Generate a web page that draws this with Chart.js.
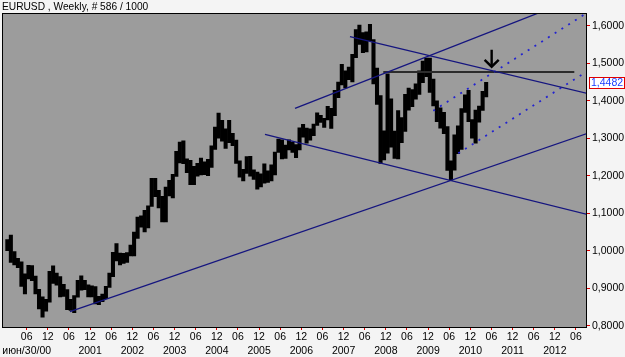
<!DOCTYPE html>
<html>
<head>
<meta charset="utf-8">
<script src="https://cdn.jsdelivr.net/npm/chart.js@4.4.1/dist/chart.umd.min.js"></script>
<style>
  html, body { margin: 0; padding: 0; background: #f4f4f4; }
  #wrap { width: 625px; height: 357px; }
</style>
</head>
<body>
<div id="wrap"><canvas id="eurusd" width="625" height="357"></canvas></div>
<script>
// first bar of the series (year, month)
const firstMonth = [1999, 12];

// monthly high / low
const highs = [
    1.0300,
    1.0414, 0.9980, 0.9800, 0.9700, 0.9380, 0.9610, 0.9600, 0.9320, 0.8970, 0.8770, 0.8700, 0.9450, // 2000
    0.9595, 0.9400, 0.9310, 0.9100, 0.8960, 0.8700, 0.8800, 0.9210, 0.9330, 0.9210, 0.9090, 0.9060, // 2001
    0.9040, 0.8780, 0.8840, 0.9050, 0.9400, 0.9960, 1.0190, 0.9940, 0.9930, 0.9950, 1.0150, 1.0500, // 2002
    1.0900, 1.0930, 1.1080, 1.1200, 1.1930, 1.1930, 1.1610, 1.1450, 1.1700, 1.1880, 1.2040, 1.2650, // 2003
    1.2900, 1.2930, 1.2450, 1.2410, 1.2250, 1.2330, 1.2470, 1.2370, 1.2440, 1.2800, 1.3300, 1.3670, // 2004
    1.3480, 1.3250, 1.3480, 1.3130, 1.2950, 1.2400, 1.2170, 1.2510, 1.2520, 1.2160, 1.2100, 1.2050, // 2005
    1.2320, 1.2130, 1.2290, 1.2630, 1.2980, 1.2960, 1.2820, 1.2960, 1.2900, 1.2830, 1.3280, 1.3370, // 2006
    1.3270, 1.3250, 1.3380, 1.3680, 1.3610, 1.3530, 1.3850, 1.3800, 1.4280, 1.4500, 1.4970, 1.4800, // 2007
    1.4900, 1.5240, 1.5900, 1.6020, 1.5820, 1.5840, 1.6040, 1.5630, 1.4870, 1.4140, 1.3200, 1.4720, // 2008
    1.4050, 1.3190, 1.3740, 1.3550, 1.4170, 1.4340, 1.4300, 1.4450, 1.4800, 1.5060, 1.5140, 1.5140, // 2009
    1.4580, 1.4000, 1.3810, 1.3690, 1.3310, 1.2400, 1.3090, 1.3330, 1.3790, 1.4160, 1.4280, 1.3500, // 2010
    1.3750, 1.3860, 1.4250, 1.4490                                                                  // 2011
];
const lows = [
    1.0000,
    0.9685, 0.9620, 0.9550, 0.9050, 0.8845, 0.9250, 0.9200, 0.8850, 0.8450, 0.8230, 0.8390, 0.8630, // 2000
    0.9130, 0.9080, 0.8770, 0.8780, 0.8430, 0.8410, 0.8350, 0.8760, 0.8950, 0.8960, 0.8770, 0.8770, // 2001
    0.8580, 0.8560, 0.8640, 0.8720, 0.9020, 0.9310, 0.9730, 0.9620, 0.9660, 0.9690, 0.9860, 0.9860, // 2002
    1.0330, 1.0630, 1.0500, 1.0610, 1.1180, 1.1440, 1.1140, 1.0770, 1.0770, 1.1460, 1.1410, 1.1980, // 2003
    1.2340, 1.2320, 1.2080, 1.1760, 1.1760, 1.1990, 1.2020, 1.2030, 1.2000, 1.2220, 1.2700, 1.3000, // 2004
    1.2920, 1.2730, 1.2880, 1.2800, 1.2330, 1.1960, 1.1860, 1.2060, 1.1990, 1.1900, 1.1640, 1.1700, // 2005
    1.1800, 1.1820, 1.1860, 1.2020, 1.2620, 1.2450, 1.2460, 1.2690, 1.2620, 1.2480, 1.2690, 1.3030, // 2006
    1.2870, 1.2950, 1.3070, 1.3340, 1.3420, 1.3290, 1.3490, 1.3260, 1.3600, 1.4080, 1.4420, 1.4340, // 2007
    1.4560, 1.4500, 1.5150, 1.5500, 1.5280, 1.5300, 1.5600, 1.4450, 1.3900, 1.2330, 1.2420, 1.2600, // 2008
    1.2760, 1.2460, 1.2450, 1.2880, 1.3180, 1.3750, 1.3840, 1.4040, 1.4170, 1.4480, 1.4640, 1.4220, // 2009
    1.3860, 1.3440, 1.3270, 1.3120, 1.2140, 1.1880, 1.2150, 1.2590, 1.2700, 1.3690, 1.3440, 1.3000, // 2010
    1.2870, 1.3430, 1.3740, 1.4100                                                                  // 2011
];
const lastClose = 1.4482;

// axis ticks
const yTicks = [0.8, 0.9, 1.0, 1.1, 1.2, 1.3, 1.4, 1.5, 1.6];
const xTickMonths = [
    '2000-06', '2000-12', '2001-06', '2001-12', '2002-06', '2002-12', '2003-06', '2003-12',
    '2004-06', '2004-12', '2005-06', '2005-12', '2006-06', '2006-12', '2007-06', '2007-12',
    '2008-06', '2008-12', '2009-06', '2009-12', '2010-06', '2010-12', '2011-06', '2011-12',
    '2012-06', '2012-12', '2013-06'
];
const yearLabels = ['2001', '2002', '2003', '2004', '2005', '2006', '2007', '2008', '2009', '2010', '2011', '2012'];
const startLabel = 'июн/30/00';

// drawn objects: [decimal year, price]
const supportLine   = [[2001.44, 0.8373], [2013.70, 1.3132]];
const risingUpper   = [[2006.767, 1.3797], [2012.70, 1.6415]];
const fallingUpper  = [[2008.069, 1.5707], [2013.70, 1.4191]];
const fallingLower  = [[2006.057, 1.3104], [2013.70, 1.0965]];
const resistance    = [[2008.857, 1.4765], [2013.378, 1.4765]];
const dottedUpper   = [[2010.040, 1.3733], [2013.70, 1.6360]];
const dottedLower   = [[2010.632, 1.2597], [2013.70, 1.4799]];
const arrowShaft    = [[2011.422, 1.5360], [2011.422, 1.4907]];
const arrowHead     = [[2011.255, 1.5090], [2011.422, 1.4907], [2011.589, 1.5090]];

const monthToYear = (y, m) => y + (m - 0.5) / 12;   // middle of the month
const tickToYear = s => {
    const [y, m] = s.split('-').map(Number);
    return y + (m - 1) / 12;                          // start of the month
};

const barData = highs.map((h, i) => {
    const m0 = firstMonth[1] - 1 + i;
    const x = monthToYear(firstMonth[0] + Math.floor(m0 / 12), (m0 % 12) + 1);
    return { x, y: [lows[i], h] };
});

const lineSet = (pts, color, width, dash) => ({
    type: 'line',
    data: pts.map(([x, y]) => ({ x, y })),
    borderColor: color,
    borderWidth: width,
    borderDash: dash || [],
    pointRadius: 0,
    fill: false,
    tension: 0,
    order: 1
});

const fmt = v => v.toFixed(4).replace('.', ',');

const chartFrame = {
    id: 'chartFrame',
    beforeDraw(chart) {
        const { ctx, chartArea: a } = chart;
        ctx.save();
        ctx.fillStyle = '#9c9c9c';
        ctx.fillRect(a.left, a.top, a.right - a.left, a.bottom - a.top);
        ctx.restore();
    },
    afterDraw(chart) {
        const { ctx, chartArea: a } = chart;
        ctx.save();
        ctx.strokeStyle = '#000';
        ctx.lineWidth = 1;
        ctx.strokeRect(Math.round(a.left) + 0.5, Math.round(a.top) + 0.5,
            Math.round(a.right - a.left), Math.round(a.bottom - a.top));
        // last price marker on the right scale
        const py = Math.round(chart.scales.y.getPixelForValue(lastClose));
        const bx = Math.round(a.right) + 3;
        ctx.fillStyle = '#ffffff';
        ctx.fillRect(bx, py - 5, 35, 11);
        ctx.strokeStyle = '#e00000';
        ctx.strokeRect(bx + 0.5, py - 5.5, 35, 11);
        ctx.fillStyle = '#1a3cff';
        ctx.font = '10.5px "Liberation Sans", Arial, sans-serif';
        ctx.textBaseline = 'middle';
        ctx.textAlign = 'left';
        ctx.fillText(fmt(lastClose), bx + 2, py + 0.5);
        ctx.restore();
    }
};

Chart.defaults.font.family = '"Liberation Sans", Arial, sans-serif';
Chart.defaults.color = '#000';

const ctx = document.getElementById('eurusd').getContext('2d');
new Chart(ctx, {
    type: 'bar',
    data: {
        datasets: [
            {
                type: 'bar',
                data: barData,
                backgroundColor: '#000',
                borderWidth: 0,
                barThickness: 3.4,
                order: 2
            },
            lineSet(supportLine, '#15157f', 1.3),
            lineSet(risingUpper, '#15157f', 1.3),
            lineSet(fallingUpper, '#15157f', 1.3),
            lineSet(fallingLower, '#15157f', 1.3),
            lineSet(dottedUpper, '#2323d0', 1.8, [2, 6]),
            lineSet(dottedLower, '#2323d0', 1.8, [2, 6]),
            lineSet(resistance, '#2c2c2c', 2),
            lineSet(arrowShaft, '#000', 2.4),
            lineSet(arrowHead, '#000', 2.4)
        ]
    },
    options: {
        responsive: false,
        animation: false,
        layout: { padding: { left: 2, right: 0, top: 0, bottom: 0 } },
        plugins: {
            legend: { display: false },
            tooltip: { enabled: false },
            title: {
                display: true,
                text: 'EURUSD , Weekly, # 586 / 1000',
                align: 'start',
                color: '#000',
                font: { size: 10.2, weight: 'normal', lineHeight: 1.2 },
                padding: { top: 1, bottom: 0 }
            }
        },
        scales: {
            x: {
                type: 'linear',
                min: 1999.832,
                max: 2013.655,
                offset: false,
                afterBuildTicks: s => { s.ticks = xTickMonths.map(m => ({ value: tickToYear(m) })); },
                afterFit: s => { s.height = 30; },
                grid: {
                    offset: false,
                    drawOnChartArea: false,
                    tickLength: 3,
                    tickColor: '#e00000'
                },
                border: { color: '#000', width: 1 },
                ticks: {
                    autoSkip: false,
                    maxRotation: 0,
                    padding: 0,
                    font: { size: 10.5, lineHeight: '14.4px' },
                    callback: (v, i) => {
                        const [yy, mm] = xTickMonths[i].split('-');
                        if (i === 0) return [mm, startLabel];
                        if (mm === '12' && yearLabels.includes(yy)) return [mm, yy];
                        return mm;
                    }
                }
            },
            y: {
                position: 'right',
                min: 0.79653,
                max: 1.6333,
                afterBuildTicks: s => { s.ticks = yTicks.map(v => ({ value: v })); },
                afterFit: s => { s.width = 39; },
                grid: {
                    drawOnChartArea: false,
                    tickLength: 4,
                    tickColor: '#e00000'
                },
                border: { color: '#000', width: 1 },
                ticks: {
                    padding: 2,
                    font: { size: 10.5 },
                    callback: v => fmt(v)
                }
            }
        }
    },
    plugins: [chartFrame]
});
</script>
</body>
</html>
